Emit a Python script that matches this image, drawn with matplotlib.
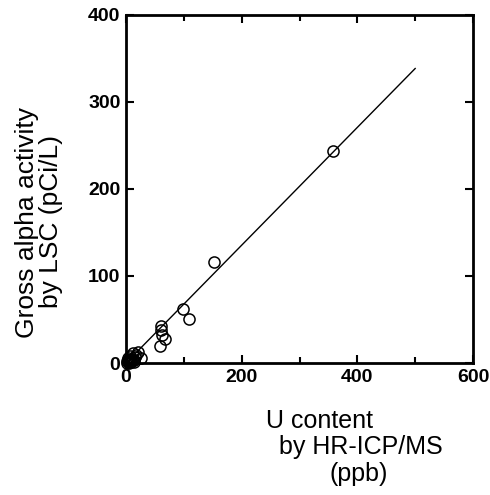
import matplotlib
matplotlib.use("Agg")
import matplotlib.pyplot as plt
from matplotlib.ticker import MultipleLocator

plt.rcParams['font.family'] = ['Liberation Sans', 'DejaVu Sans']

# U content (ppb) vs gross alpha (pCi/L)
u_ppb = [358, 153, 98, 109, 60, 61, 62, 67, 58,
         12, 20, 26, 6, 9, 3, 15, 5, 10, 18, 8, 2,
         4, 7, 11, 13, 1, 6, 14]
alpha_pci = [243, 116, 62, 51, 42, 38, 32, 28, 19,
             11, 13, 6, 4, 1, 3, 7, 1, 5, 9, 2, 0.5,
             6, 8, 3, 4, 2, 0, 1]

# fitted line
fit_x = [0, 500]
fit_y = [0, 338]

fig = plt.figure(figsize=(4.9, 4.95), dpi=100)
ax = fig.add_axes([126/490, 1 - 363/495, 347/490, 348.5/495])

ax.plot(fit_x, fit_y, color='black', lw=1.0)
ax.plot(u_ppb, alpha_pci, 'o', mfc='none', mec='black', ms=8, mew=1.1,
        clip_on=False)

ax.set_xlim(0, 600)
ax.set_ylim(0, 400)
ax.xaxis.set_major_locator(MultipleLocator(200))
ax.xaxis.set_minor_locator(MultipleLocator(100))
ax.yaxis.set_major_locator(MultipleLocator(100))

for s in ax.spines.values():
    s.set_linewidth(2)
ax.tick_params(which='both', direction='in', top=True, right=True, width=1.5)
ax.tick_params(which='major', length=6, labelsize=14, pad=4)
ax.tick_params(which='minor', length=4)
for lab in ax.get_xticklabels() + ax.get_yticklabels():
    lab.set_fontweight('bold')

fig.text(320/490, 1 - 421/495, 'U content', ha='center', va='center', fontsize=18)
fig.text(361/490, 1 - 447/495, 'by HR-ICP/MS', ha='center', va='center', fontsize=18)
fig.text(359/490, 1 - 474/495, '(ppb)', ha='center', va='center', fontsize=18)
fig.text(27/490, 1 - 222/495, 'Gross alpha activity', ha='center', va='center',
         rotation=90, fontsize=19)
fig.text(51/490, 1 - 222/495, 'by LSC (pCi/L)', ha='center', va='center',
         rotation=90, fontsize=19)

fig.savefig('out.png', dpi=100)
